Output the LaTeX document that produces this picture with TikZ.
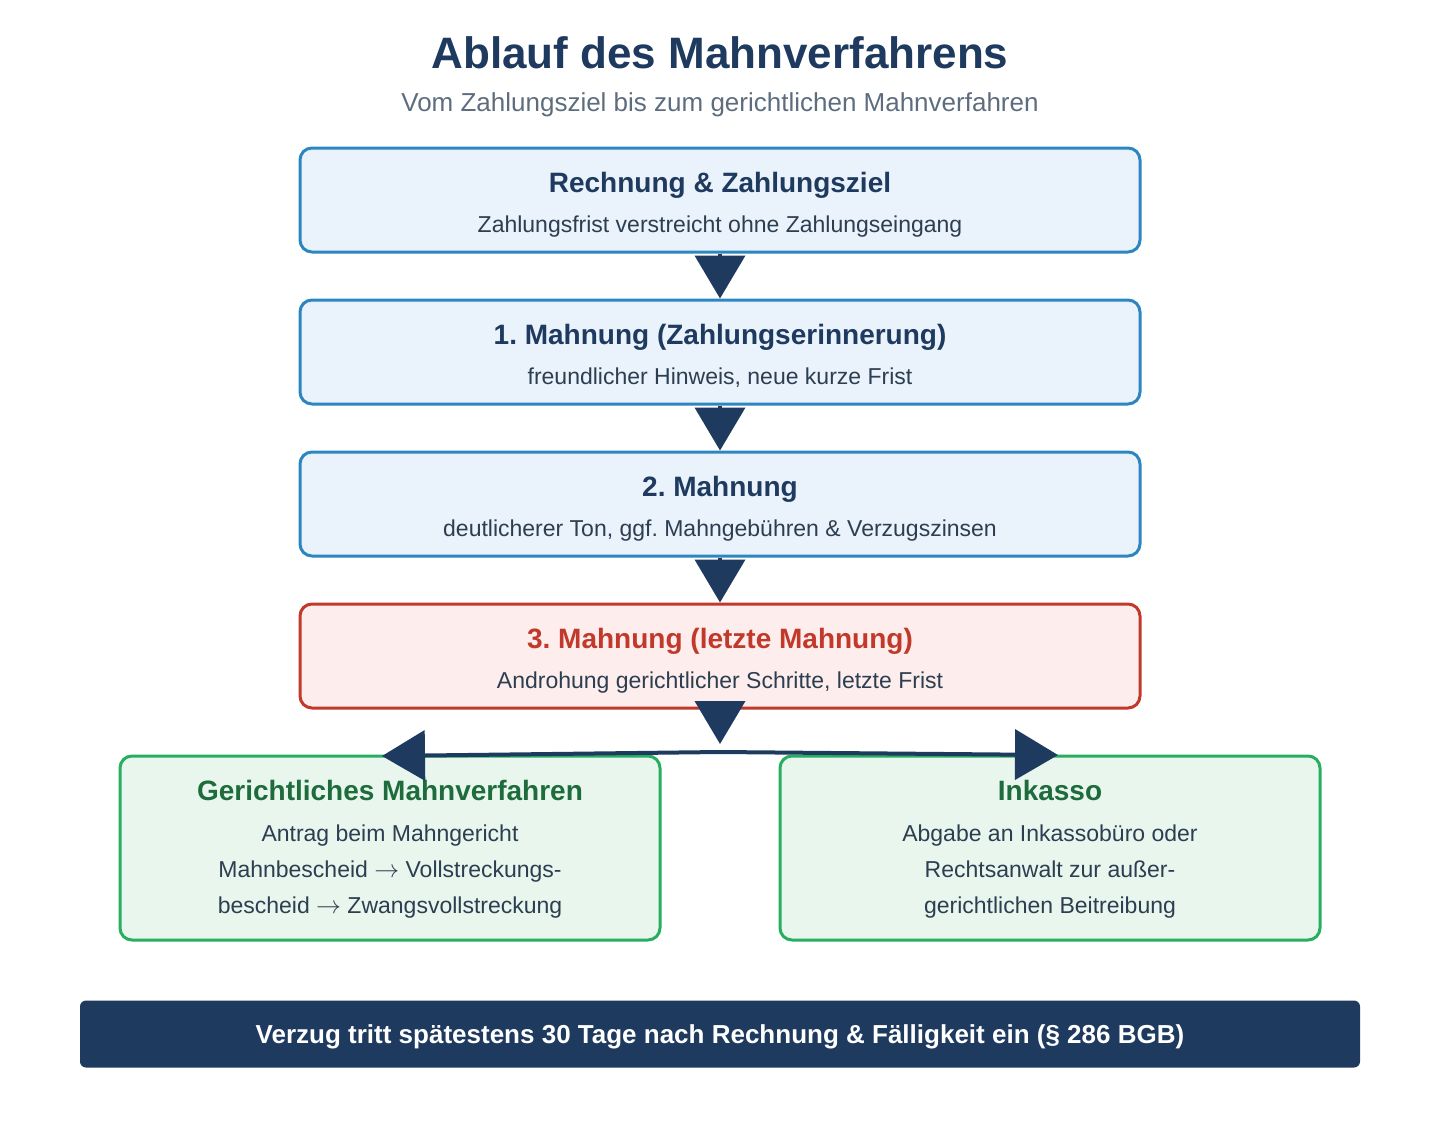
\documentclass[tikz,border=0pt]{standalone}
\usepackage{fontspec}
\setmainfont{Liberation Sans}
\usetikzlibrary{arrows.meta}
\definecolor{navy}{HTML}{1F3A5F}
\definecolor{bluebd}{HTML}{2E86C1}
\definecolor{bluefill}{HTML}{EAF2FB}
\definecolor{redbd}{HTML}{C0392B}
\definecolor{redfill}{HTML}{FDEDEC}
\definecolor{greenbd}{HTML}{27AE60}
\definecolor{greenfill}{HTML}{E8F6EE}
\definecolor{greentxt}{HTML}{1E6B3C}
\definecolor{subgrey}{HTML}{5D6D7E}
\definecolor{bodytxt}{HTML}{2C3E50}
\newcommand{\rarr}{$\rightarrow$}
\tikzset{
  stepbox/.style={draw=bluebd, fill=bluefill, line width=3pt, rounded corners=12pt, minimum width=840pt, minimum height=104pt, inner sep=0pt},
  redbox/.style={stepbox, draw=redbd, fill=redfill},
  greenbox/.style={stepbox, draw=greenbd, fill=greenfill, minimum width=540pt, minimum height=184pt},
  ttl/.style={font=\bfseries\fontsize{28}{32}\selectfont, text=navy, anchor=base, inner sep=0pt},
  bdy/.style={font=\fontsize{23}{27}\selectfont, text=bodytxt, anchor=base, inner sep=0pt},
  conn/.style={draw=navy, line width=4pt, -{Triangle[width=50pt,length=43pt]}},
}
\begin{document}
\frenchspacing
\begin{tikzpicture}[x=1pt,y=-1pt]
\useasboundingbox (0,0) rectangle (1440,1120);
\node[font=\bfseries\fontsize{44}{50}\selectfont, text=navy, anchor=base, inner sep=0pt] (title) at (720,68) {Ablauf des Mahnverfahrens};
\node[font=\fontsize{26}{30}\selectfont, text=subgrey, anchor=base, inner sep=0pt] (sub) at (720,111) {Vom Zahlungsziel bis zum gerichtlichen Mahnverfahren};

\node[stepbox] (b1) at (720,200) {};
\node[ttl] (b1t) at (720,192) {Rechnung \& Zahlungsziel};
\node[bdy] (b1s) at (720,232) {Zahlungsfrist verstreicht ohne Zahlungseingang};

\node[stepbox] (b2) at (720,352) {};
\node[ttl] (b2t) at (720,344) {1. Mahnung (Zahlungserinnerung)};
\node[bdy] (b2s) at (720,384) {freundlicher Hinweis, neue kurze Frist};

\node[stepbox] (b3) at (720,504) {};
\node[ttl] (b3t) at (720,496) {2. Mahnung};
\node[bdy] (b3s) at (720,536) {deutlicherer Ton, ggf. Mahngebühren \& Verzugszinsen};

\node[redbox] (b4) at (720,656) {};
\node[ttl, text=redbd] (b4t) at (720,648) {3. Mahnung (letzte Mahnung)};
\node[bdy] (b4s) at (720,688) {Androhung gerichtlicher Schritte, letzte Frist};

\node[greenbox] (g1) at (390,848) {};
\node[ttl, text=greentxt] (g1t) at (390,800) {Gerichtliches Mahnverfahren};
\node[bdy] (g1a) at (390,841) {Antrag beim Mahngericht};
\node[bdy] (g1b) at (390,877) {Mahnbescheid \rarr{} Vollstreckungs-};
\node[bdy] (g1c) at (390,913) {bescheid \rarr{} Zwangsvollstreckung};

\node[greenbox] (g2) at (1050,848) {};
\node[ttl, text=greentxt] (g2t) at (1050,800) {Inkasso};
\node[bdy] (g2a) at (1050,841) {Abgabe an Inkassobüro oder};
\node[bdy] (g2b) at (1050,877) {Rechtsanwalt zur außer-};
\node[bdy] (g2c) at (1050,913) {gerichtlichen Beitreibung};

\node[fill=navy, rounded corners=6pt, minimum width=1280pt, minimum height=67pt, inner sep=0pt] (foot) at (720,1034) {};
\node[font=\bfseries\fontsize{26}{30}\selectfont, text=white, anchor=base, inner sep=0pt] (foott) at (720,1043) {Verzug tritt spätestens 30 Tage nach Rechnung \& Fälligkeit ein (§ 286 BGB)};

\draw[conn] (b1.south) -- (b2.north);
\draw[conn] (b2.south) -- (b3.north);
\draw[conn] (b3.south) -- (b4.north);
\coordinate (split) at (720,752);
\coordinate (lt) at (382,756);
\coordinate (rt) at (1058,755);
\draw[conn] (b4.south) -- ([yshift=8pt]split);
\draw[conn] (split) -- (lt);
\draw[conn] (split) -- (rt);
\end{tikzpicture}
\end{document}
